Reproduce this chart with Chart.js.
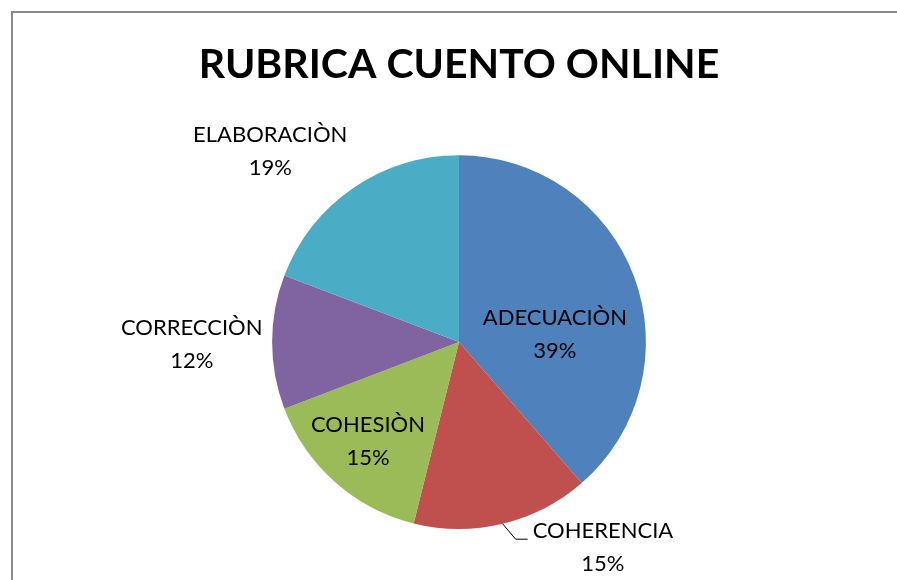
<!DOCTYPE html>
<html>
<head>
<meta charset="utf-8">
<script src="https://cdn.jsdelivr.net/npm/chart.js@4/dist/chart.umd.min.js"></script>
<style>
  html, body { margin: 0; padding: 0; background: #ffffff; }
  #wrap { position: relative; width: 897px; height: 580px; overflow: hidden; }
  #frame { position: absolute; left: 11px; top: 11px; width: 1000px; height: 1000px;
           border-left: 2px solid #8c8c8c; border-top: 2px solid #8c8c8c; box-sizing: border-box; }
  #c { position: absolute; left: 0; top: 0; }
</style>
</head>
<body>
<div id="wrap">
  <div id="frame"></div>
  <canvas id="c" width="897" height="580"></canvas>
</div>
<script>
// ---- data ----
const categories = ["ADECUACIÒN", "COHERENCIA", "COHESIÒN", "CORRECCIÒN", "ELABORACIÒN"];
const values = [38.6, 15.3, 15.3, 11.6, 19.2];
const chartTitle = "RUBRICA CUENTO ONLINE";

// ---- style ----
const colors = ["#4F81BD", "#C0504D", "#9BBB59", "#8064A2", "#4BACC6"];
// label block centre, as fraction of the pie radius from the pie centre
const labelOffsets = [[0.513, -0.043], [0.77, 1.10], [-0.487, 0.529], [-1.43, 0.01], [-1.01, -1.02]];
const leaderFor = [false, true, false, false, false];
const fontFamily = "Lato, 'Open Sans', sans-serif";
const labelFont = "22px " + fontFamily;
const lineGap = 33;

const labelPlugin = {
  id: 'pieLabels',
  afterDatasetsDraw(chart) {
    const ctx = chart.ctx;
    const meta = chart.getDatasetMeta(0);
    const data = chart.data.datasets[0].data;
    const total = data.reduce((a, b) => a + b, 0);
    ctx.save();
    ctx.font = labelFont;
    ctx.fillStyle = '#000';
    ctx.textAlign = 'center';
    ctx.textBaseline = 'middle';
    meta.data.forEach((arc, i) => {
      const cx = arc.x, cy = arc.y, R = arc.outerRadius;
      const lx = cx + labelOffsets[i][0] * R;
      const ly = cy + labelOffsets[i][1] * R;
      const pct = Math.round(data[i] / total * 100) + '%';
      ctx.fillText(chart.data.labels[i], lx, ly - lineGap / 2);
      ctx.fillText(pct, lx, ly + lineGap / 2);
      if (leaderFor[i]) {
        const mid = (arc.startAngle + arc.endAngle) / 2;
        const sx = cx + Math.cos(mid) * R, sy = cy + Math.sin(mid) * R;
        const tw = ctx.measureText(chart.data.labels[i]).width;
        const ey = ly - lineGap / 2 + 8;
        const ex = lx - tw / 2 - 5;
        ctx.beginPath();
        ctx.strokeStyle = '#000';
        ctx.lineWidth = 1;
        ctx.moveTo(sx, sy);
        ctx.lineTo(ex - 12, ey);
        ctx.lineTo(ex, ey);
        ctx.stroke();
      }
    });
    ctx.restore();
  }
};

new Chart(document.getElementById('c'), {
  type: 'pie',
  data: {
    labels: categories,
    datasets: [{ data: values, backgroundColor: colors, borderWidth: 0 }]
  },
  options: {
    responsive: false,
    animation: false,
    layout: { padding: { left: 21, right: 0, top: 0, bottom: 51 } },
    plugins: {
      legend: { display: false },
      tooltip: { enabled: false },
      title: {
        display: true,
        text: chartTitle,
        color: '#000',
        font: { family: fontFamily, size: 41, weight: 'bold', lineHeight: 1.2 },
        padding: { top: 40, bottom: 66 }
      }
    }
  },
  plugins: [labelPlugin]
});
</script>
</body>
</html>
